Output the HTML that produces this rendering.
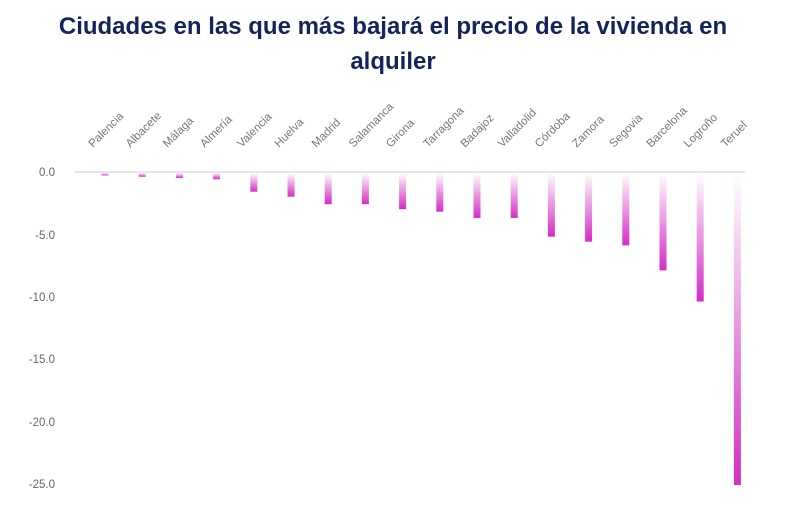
<!DOCTYPE html>
<html><head><meta charset="utf-8"><style>
html,body{margin:0;padding:0;background:#fff;width:786px;height:531px;overflow:hidden}
.t{position:absolute;left:0;top:9px;width:786px;text-align:center;font-family:"Liberation Sans",sans-serif;font-weight:bold;font-size:24px;line-height:35px;color:#14245a}
</style></head><body>
<div class="t">Ciudades en las que más bajará el precio de la vivienda en<br>alquiler</div>
<svg width="786" height="531" style="position:absolute;left:0;top:0" font-family="Liberation Sans, sans-serif">
<defs><linearGradient id="g" x1="0" y1="0" x2="0" y2="1"><stop offset="0" stop-color="#fff"/><stop offset="1" stop-color="#d42cc4"/></linearGradient></defs>
<line x1="75" y1="172" x2="745" y2="172" stroke="#e6e6e6" stroke-width="2"/>
<g font-size="11.5" fill="#666" text-anchor="end">
<text x="55" y="176">0.0</text><text x="55" y="239">-5.0</text><text x="55" y="301">-10.0</text><text x="55" y="363">-15.0</text><text x="55" y="426">-20.0</text><text x="55" y="488">-25.0</text>
</g>
<g id="bars"></g>
<g id="labs" font-size="11.5" fill="#777"></g>
</svg>
<script>
var d=[["Palencia",-0.2],["Albacete",-0.3],["Málaga",-0.4],["Almería",-0.5],["Valencia",-1.5],["Huelva",-1.9],["Madrid",-2.5],["Salamanca",-2.5],["Girona",-2.9],["Tarragona",-3.1],["Badajoz",-3.6],["Valladolid",-3.6],["Córdoba",-5.1],["Zamora",-5.5],["Segovia",-5.8],["Barcelona",-7.8],["Logroño",-10.3],["Teruel",-25]];
var b="",l="";
d.forEach(function(e,i){var x=105+i*37.2;var h=-e[1]*12.48;
b+='<rect x="'+(x-3.5)+'" y="173" width="7" height="'+Math.max(h,2)+'" fill="url(#g)"/>';
l+='<text x="'+(x-12)+'" y="148" transform="rotate(-45 '+(x-12)+' 148)">'+e[0]+'</text>';});
document.getElementById("bars").innerHTML=b;document.getElementById("labs").innerHTML=l;
</script>
</body></html>
